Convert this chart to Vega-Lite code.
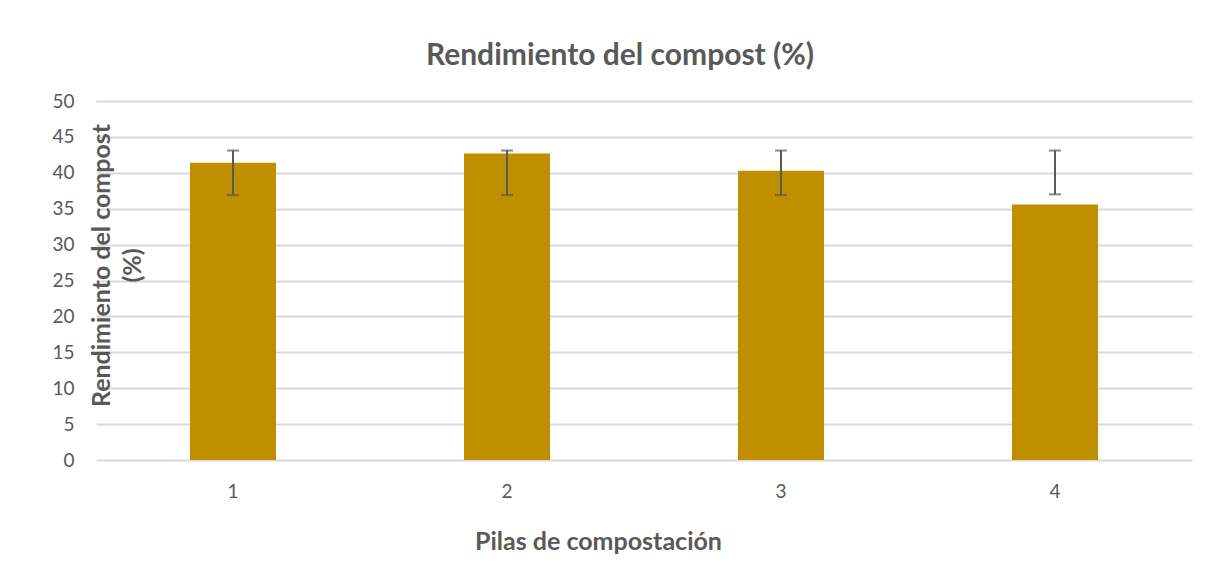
{
  "$schema": "https://vega.github.io/schema/vega-lite/v6.json",
  "width": 1096,
  "height": 359,
  "autosize": {"type": "none"},
  "padding": {"left": 96, "top": 101, "right": 20, "bottom": 120},
  "background": "white",
  "config": {
    "font": "Lato",
    "view": {"stroke": null},
    "axis": {"labelColor": "#595959", "titleColor": "#595959", "labelFont": "Lato", "titleFont": "Lato"}
  },
  "title": {
    "text": "Rendimiento del compost (%)",
    "fontSize": 30,
    "fontWeight": "bold",
    "color": "#595959",
    "anchor": "middle",
    "frame": "group",
    "dx": -24,
    "dy": 37,
    "baseline": "alphabetic",
    "offset": 34
  },
  "data": {
    "values": [
      {"pila": "1", "rendimiento": 41.4, "lo": 36.9, "hi": 43.1},
      {"pila": "2", "rendimiento": 42.7, "lo": 36.9, "hi": 43.1},
      {"pila": "3", "rendimiento": 40.3, "lo": 36.9, "hi": 43.1},
      {"pila": "4", "rendimiento": 35.6, "lo": 37.0, "hi": 43.1}
    ]
  },
  "encoding": {
    "x": {
      "field": "pila",
      "type": "nominal",
      "scale": {"paddingInner": 0.686, "paddingOuter": 0.343},
      "axis": {
        "title": "Pilas de compostación",
        "titleFontSize": 25,
        "titleFontWeight": "bold",
        "titleX": 502,
        "titleY": 81,
        "titleBaseline": "middle",
        "titleAnchor": "start",
        "titleAlign": "center",
        "labelAngle": 0,
        "labelFontSize": 19,
        "labelPadding": 22,
        "ticks": false,
        "domain": false,
        "grid": false
      }
    }
  },
  "layer": [
    {
      "mark": {"type": "bar", "color": "#BF8F00"},
      "encoding": {
        "y": {
          "field": "rendimiento",
          "type": "quantitative",
          "scale": {"domain": [0, 50], "nice": false},
          "axis": {
            "title": ["Rendimiento del compost", "(%)"],
            "titleFontSize": 25,
            "titleFontWeight": "bold",
            "titleLineHeight": 31,
            "titleAngle": -90,
            "titleX": 5,
            "titleY": 164,
            "titleAlign": "center",
            "titleBaseline": "middle",
            "titleAnchor": "start",
            "tickCount": 11,
            "tickMinStep": 5,
            "labelOverlap": false,
            "labelFontSize": 19,
            "labelPadding": 22,
            "tickSize": 0,
            "domain": false,
            "grid": true,
            "gridColor": "#d9d9d9",
            "gridWidth": 2
          }
        }
      }
    },
    {
      "mark": {"type": "rule", "color": "#595959", "strokeWidth": 2},
      "encoding": {
        "y": {"field": "lo", "type": "quantitative"},
        "y2": {"field": "hi"}
      }
    },
    {
      "mark": {"type": "tick", "color": "#595959", "size": 12, "thickness": 2, "orient": "horizontal"},
      "encoding": {"y": {"field": "lo", "type": "quantitative"}}
    },
    {
      "mark": {"type": "tick", "color": "#595959", "size": 12, "thickness": 2, "orient": "horizontal"},
      "encoding": {"y": {"field": "hi", "type": "quantitative"}}
    }
  ]
}
